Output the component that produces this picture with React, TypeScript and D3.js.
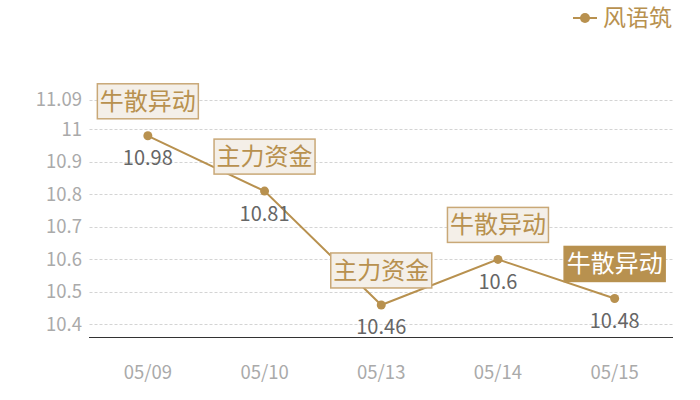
import React from "react";
import * as d3 from "d3";

const categories = ["05/09", "05/10", "05/13", "05/14", "05/15"];
const values = [10.98, 10.81, 10.46, 10.6, 10.48];
const annotations = ["牛散异动", "主力资金", "主力资金", "牛散异动", "牛散异动"];
const highlighted = [false, false, false, false, true];
const yTicks = [10.4, 10.5, 10.6, 10.7, 10.8, 10.9, 11, 11.09];
const seriesName = "风语筑";

const W = 700;
const H = 400;
const GOLD = "#b8914f";
const FONT = "'Noto Sans CJK SC', 'Noto Sans', sans-serif";

export default function App() {
  const x = d3.scaleBand<string>().domain(categories).range([89.5, 673]);
  const y = d3.scaleLinear().domain([10.36, 11.09]).range([337.5, 100]);
  const cx = (c: string) => (x(c) ?? 0) + x.bandwidth() / 2;
  const line = d3
    .line<number>()
    .x((_, i) => cx(categories[i]))
    .y((v) => y(v));

  return (
    <svg
      width={W}
      height={H}
      style={{ position: "absolute", left: 0, top: 0, fontFamily: FONT }}
    >
      {/* gridlines and y ticks */}
      {yTicks.map((t) => (
        <g key={t}>
          <line
            x1={89.5}
            x2={673}
            y1={Math.round(y(t)) + 0.5}
            y2={Math.round(y(t)) + 0.5}
            stroke="#d4d4d4"
            strokeDasharray="3,2"
          />
          <text
            x={82}
            y={y(t)}
            dy="0.35em"
            textAnchor="end"
            fontSize={18.5}
            fill="#aaaaaa"
          >
            {String(t)}
          </text>
        </g>
      ))}
      {/* x axis */}
      <line x1={89} x2={673} y1={337.5} y2={337.5} stroke="#333" strokeWidth={1} />
      {categories.map((c) => (
        <text
          key={c}
          x={cx(c)}
          y={372.5}
          dy="0.35em"
          textAnchor="middle"
          fontSize={18.5}
          fill="#aaaaaa"
        >
          {c}
        </text>
      ))}
      {/* line */}
      <path d={line(values) ?? ""} fill="none" stroke={GOLD} strokeWidth={2} />
      {values.map((v, i) => (
        <circle key={i} cx={cx(categories[i])} cy={y(v)} r={4.5} fill={GOLD} />
      ))}
      {/* data labels */}
      {values.map((v, i) => (
        <text
          key={"l" + i}
          x={cx(categories[i])}
          y={y(v) + 22.5}
          dy="0.35em"
          textAnchor="middle"
          fontSize={20}
          fill="#666666"
        >
          {String(v)}
        </text>
      ))}
      {/* annotations */}
      {values.map((v, i) => {
        const px = cx(categories[i]);
        const py = y(v);
        const bw = 101;
        const bh = 35;
        const bx = px - bw / 2;
        const by = py - 17 - bh;
        const hl = highlighted[i];
        return (
          <g key={"a" + i}>
            <rect
              x={bx}
              y={by}
              width={bw}
              height={bh}
              fill={hl ? GOLD : "#f4efe8"}
              stroke={hl ? GOLD : "#c9a877"}
              strokeWidth={1.5}
            />
            <text
              x={px}
              y={by + bh / 2}
              dy="0.35em"
              textAnchor="middle"
              fontSize={24}
              fill={hl ? "#ffffff" : GOLD}
            >
              {annotations[i]}
            </text>
          </g>
        );
      })}
      {/* legend */}
      <g>
        <line x1={573} x2={597} y1={18} y2={18} stroke={GOLD} strokeWidth={2} />
        <circle cx={585} cy={18} r={5} fill={GOLD} />
        <text x={603} y={18} dy="0.35em" fontSize={23} fill={GOLD}>
          {seriesName}
        </text>
      </g>
    </svg>
  );
}
